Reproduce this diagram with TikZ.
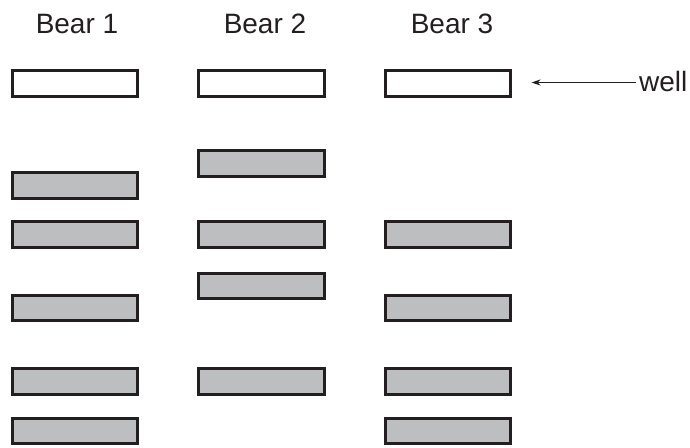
\documentclass[tikz,border=0pt]{standalone}
\usepackage{fontspec}
\setmainfont{Liberation Sans}
\usetikzlibrary{arrows.meta}
\definecolor{gelgray}{HTML}{BDBEC0}
\definecolor{ink}{HTML}{231F20}
\begin{document}
\begin{tikzpicture}[x=1pt,y=-1pt,
  band/.style={draw=ink,line width=2.6pt,minimum width=125.5pt,minimum height=25.5pt,inner sep=0pt,fill=gelgray},
  wellbox/.style={band,fill=white},
  lab/.style={font=\fontsize{28}{30}\selectfont,text=ink,inner sep=0pt,anchor=base},
  pointer/.style={draw=ink,line width=0.9pt,-{Stealth[length=9pt,width=6pt]}}]
\useasboundingbox (0,0) rectangle (690,447);
% column labels
\node[lab] (t1) at (77,33) {Bear 1};
\node[lab] (t2) at (265,33) {Bear 2};
\node[lab] (t3) at (452,33) {Bear 3};
% wells
\node[wellbox] (w1) at (75,83.5) {};
\node[wellbox] (w2) at (261.5,83.5) {};
\node[wellbox] (w3) at (448,83.5) {};
% Bear 1 bands
\node[band] (a1) at (75,185.5) {};
\node[band] (a2) at (75,234.5) {};
\node[band] (a3) at (75,308) {};
\node[band] (a4) at (75,381.5) {};
\node[band] (a5) at (75,431) {};
% Bear 2 bands
\node[band] (b1) at (261.5,163.5) {};
\node[band] (b2) at (261.5,234.5) {};
\node[band] (b3) at (261.5,286) {};
\node[band] (b4) at (261.5,381.5) {};
% Bear 3 bands
\node[band] (c1) at (448,234.5) {};
\node[band] (c2) at (448,308) {};
\node[band] (c3) at (448,381.5) {};
\node[band] (c4) at (448,431) {};
% well label and arrow
\node[lab,anchor=base west] (well) at (639,91.7) {well};
\coordinate (tip) at (531.5,82.5);
\draw[pointer] (well.west |- tip) ++(-3pt,0) -- (tip);
\end{tikzpicture}
\end{document}
